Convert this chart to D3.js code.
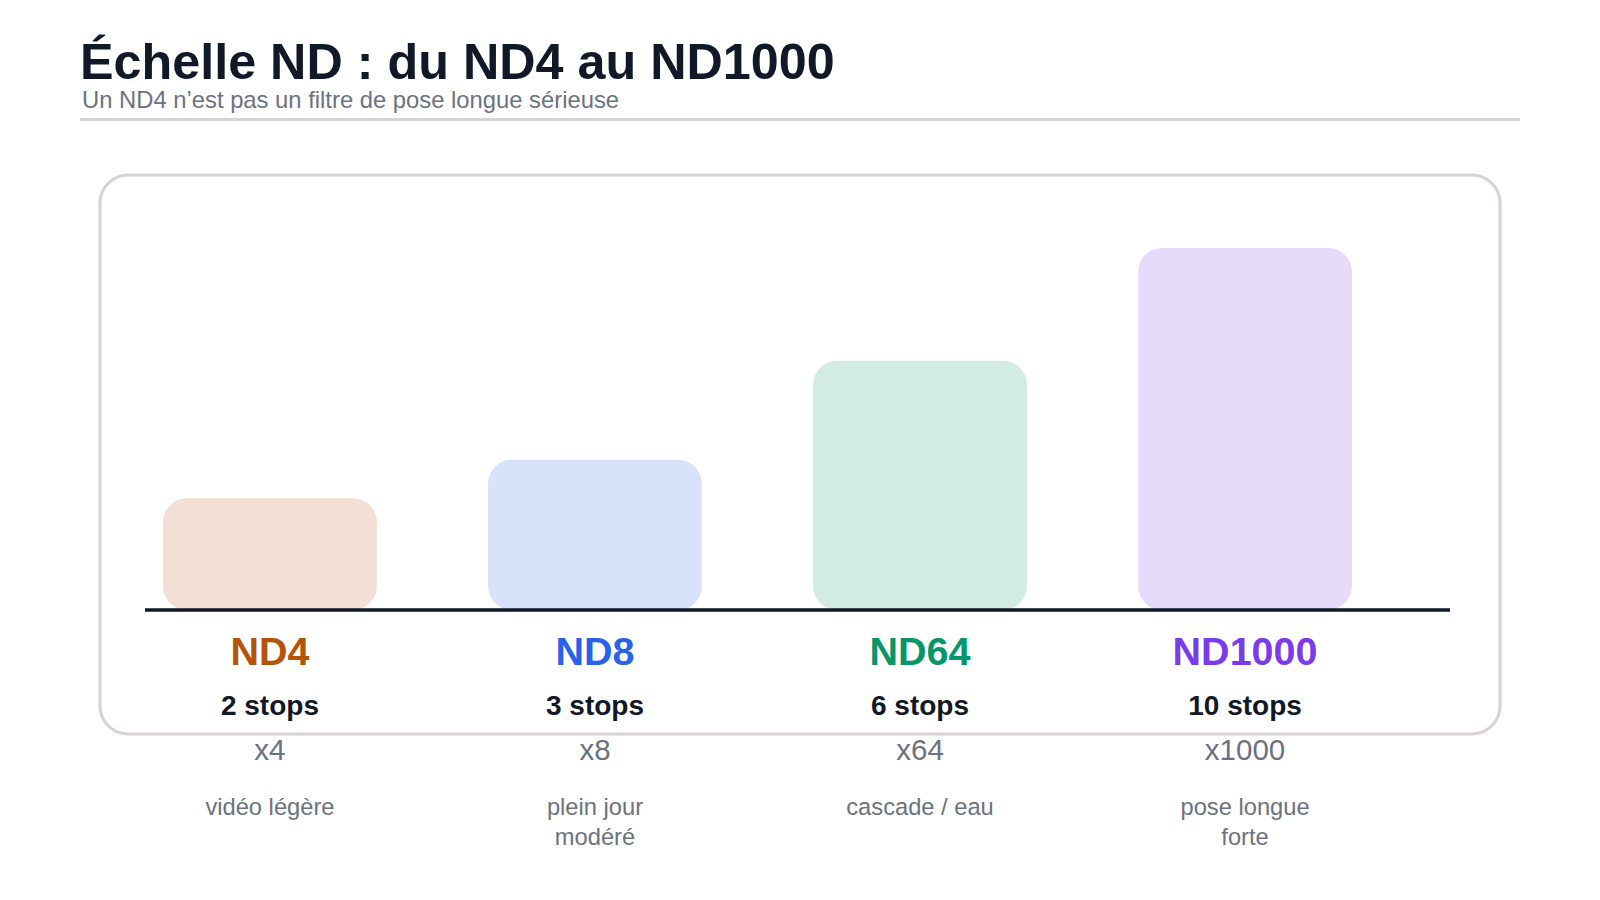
<!DOCTYPE html>
<html>
<head>
<meta charset="utf-8">
<script src="https://cdn.jsdelivr.net/npm/d3@7"></script>
<style>
  body { margin: 0; background: #fff; }
  svg { display: block; font-family: "Liberation Sans", Arial, sans-serif; }
</style>
</head>
<body>
<script>
// data
var filters = ["ND4", "ND8", "ND64", "ND1000"];
var stops = [2, 3, 6, 10];
var factors = ["x4", "x8", "x64", "x1000"];
var uses = ["vidéo légère", "plein jour modéré", "cascade / eau", "pose longue forte"];
var colors = ["#b45309", "#2563eb", "#059669", "#7c3aed"];

var w = 1600, h = 900;
var base = 610;

var svg = d3.select("body").append("svg")
    .attr("width", w)
    .attr("height", h);

// title block
svg.append("text")
    .attr("x", 80).attr("y", 79)
    .attr("font-size", 50.3).attr("font-weight", "bold")
    .attr("fill", "#111827")
    .text("Échelle ND : du ND4 au ND1000");
svg.append("text")
    .attr("x", 82).attr("y", 108)
    .attr("font-size", 23.8)
    .attr("fill", "#6b7280")
    .text("Un ND4 n’est pas un filtre de pose longue sérieuse");
svg.append("line")
    .attr("x1", 80).attr("x2", 1520)
    .attr("y1", 119.5).attr("y2", 119.5)
    .attr("stroke", "#d6d3d1").attr("stroke-width", 3);

// card
svg.append("rect")
    .attr("x", 100).attr("y", 175)
    .attr("width", 1400).attr("height", 559)
    .attr("rx", 28)
    .attr("fill", "#fff")
    .attr("stroke", "#d6d3d1").attr("stroke-width", 3);

var x = d3.scaleBand()
    .domain(filters)
    .range([163, 1352])
    .paddingInner(0.342)
    .paddingOuter(0);

var y = d3.scalePow().exponent(0.73)
    .domain([0, 10])
    .range([0, 362]);

var rows = filters.map(function(f, i){
    return {name: f, stops: stops[i], factor: factors[i], use: uses[i], color: colors[i]};
});

svg.selectAll("rect.bar")
    .data(rows)
    .enter()
    .append("rect")
    .attr("class", "bar")
    .attr("x", function(d){ return x(d.name); })
    .attr("y", function(d){ return base - y(d.stops); })
    .attr("width", x.bandwidth())
    .attr("height", function(d){ return y(d.stops); })
    .attr("rx", 24)
    .attr("fill", function(d){ return d.color; })
    .attr("fill-opacity", 0.18);

svg.append("line")
    .attr("x1", 145).attr("x2", 1450)
    .attr("y1", base).attr("y2", base)
    .attr("stroke", "#111827").attr("stroke-width", 3.5);

var g = svg.selectAll("g.lab")
    .data(rows)
    .enter()
    .append("g")
    .attr("class", "lab")
    .attr("transform", function(d){ return "translate(" + (x(d.name) + x.bandwidth()/2) + ",0)"; })
    .attr("text-anchor", "middle");

g.append("text")
    .attr("y", 664.5)
    .attr("font-size", 39.5).attr("font-weight", "bold")
    .attr("fill", function(d){ return d.color; })
    .text(function(d){ return d.name; });

g.append("text")
    .attr("y", 715)
    .attr("font-size", 28).attr("font-weight", "bold")
    .attr("fill", "#111827")
    .text(function(d){ return d.stops + " stops"; });

g.append("text")
    .attr("y", 760)
    .attr("font-size", 29.5)
    .attr("fill", "#6b7280")
    .text(function(d){ return d.factor; });

// wrapped use text
g.each(function(d){
    var t = d3.select(this).append("text")
        .attr("y", 815)
        .attr("font-size", 23.7)
        .attr("fill", "#6b7280");
    var words = d.use.split(" ");
    var line = [];
    var ts = t.append("tspan").attr("x", 0);
    words.forEach(function(wd){
        line.push(wd);
        ts.text(line.join(" "));
        if (ts.node().getComputedTextLength() > 165 && line.length > 1) {
            line.pop();
            ts.text(line.join(" "));
            line = [wd];
            ts = t.append("tspan").attr("x", 0).attr("dy", 29.5).text(wd);
        }
    });
});
</script>
</body>
</html>
